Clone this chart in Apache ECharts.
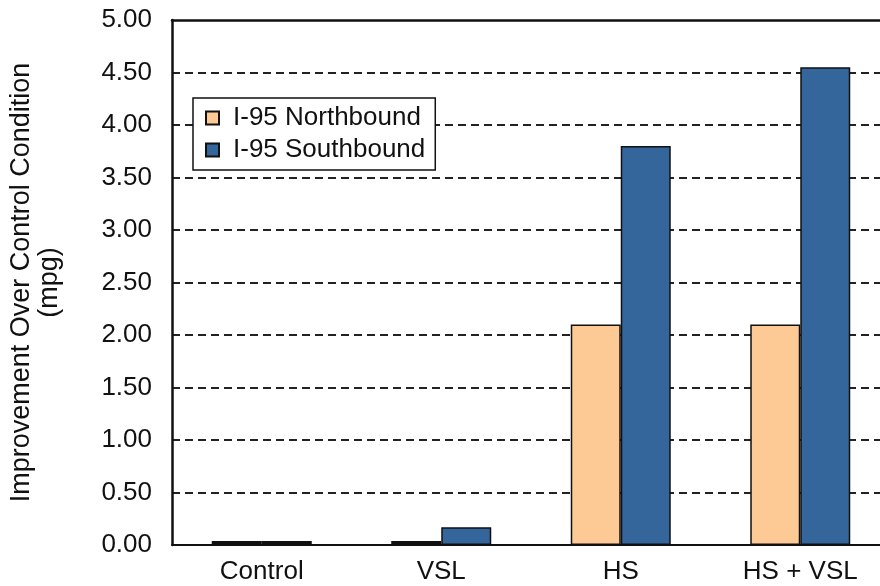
<!DOCTYPE html>
<html>
<head>
<meta charset="utf-8">
<script src="https://cdn.jsdelivr.net/npm/echarts@6/dist/echarts.min.js"></script>
<style>
html,body{margin:0;padding:0;background:#fff;overflow:hidden;width:880px;height:586px;}
#chart{width:900px;height:586px;}
</style>
</head>
<body>
<div id="chart"></div>
<script>
var categories = ['Control', 'VSL', 'HS', 'HS + VSL'];
var northbound = [0, 0, 2.10, 2.10];
var southbound = [0, 0.17, 3.80, 4.55];
var seriesNames = ['I-95 Northbound', 'I-95 Southbound'];
var yTitle = 'Improvement Over Control Condition\n(mpg)';

var FONT = 'Liberation Sans, Arial, sans-serif';
// zero-valued bars are drawn as a solid black baseline stub, as in the original
function withZeroStyle(arr) {
  return arr.map(function (v) {
    return v === 0 ? {value: v, itemStyle: {color: '#111'}} : v;
  });
}
var chart = echarts.init(document.getElementById('chart'));
chart.setOption({
  animation: false,
  backgroundColor: '#fff',
  grid: {left: 170, top: 20, right: 10, bottom: 41, containLabel: false},
  legend: {
    orient: 'vertical',
    left: 193, top: 98,
    backgroundColor: '#fff',
    borderColor: '#111', borderWidth: 1.5, borderRadius: 0,
    padding: [7, 10, 7, 12],
    itemWidth: 13, itemHeight: 13, itemGap: 6,
    icon: 'rect',
    textStyle: {fontFamily: FONT, fontSize: 26, color: '#111', padding: [0, 0, 0, 9]},
    data: seriesNames
  },
  xAxis: [{
    type: 'category', data: categories, position: 'bottom',
    axisLine: {lineStyle: {color: '#111', width: 2}},
    axisTick: {show: false},
    axisLabel: {fontFamily: FONT, fontSize: 26, color: '#111', margin: 14}
  }, {
    type: 'category', data: categories, position: 'top',
    axisLine: {lineStyle: {color: '#111', width: 2.5}},
    axisTick: {show: false}, axisLabel: {show: false}
  }],
  yAxis: {
    type: 'value', min: 0, max: 5, interval: 0.5,
    name: yTitle, nameLocation: 'middle', nameGap: 108, nameRotate: 90,
    nameTextStyle: {fontFamily: FONT, fontSize: 27, color: '#111', lineHeight: 28},
    axisLine: {show: true, lineStyle: {color: '#111', width: 2.5}},
    axisTick: {show: false},
    axisLabel: {fontFamily: FONT, fontSize: 26, color: '#111', margin: 20,
      formatter: function (v) { return v.toFixed(2); }},
    splitLine: {show: true, showMinLine: false, showMaxLine: false,
      lineStyle: {color: '#222', width: 2, type: [8, 5]}}
  },
  series: [{
    name: seriesNames[0], type: 'bar', data: withZeroStyle(northbound),
    barWidth: 50, barGap: '0%', barMinHeight: 4,
    itemStyle: {color: '#FDC995', borderColor: '#111', borderWidth: 1.5}
  }, {
    name: seriesNames[1], type: 'bar', data: withZeroStyle(southbound),
    barWidth: 50, barGap: '0%', barMinHeight: 4,
    itemStyle: {color: '#34659B', borderColor: '#111', borderWidth: 1.5}
  }]
});
</script>
</body>
</html>
